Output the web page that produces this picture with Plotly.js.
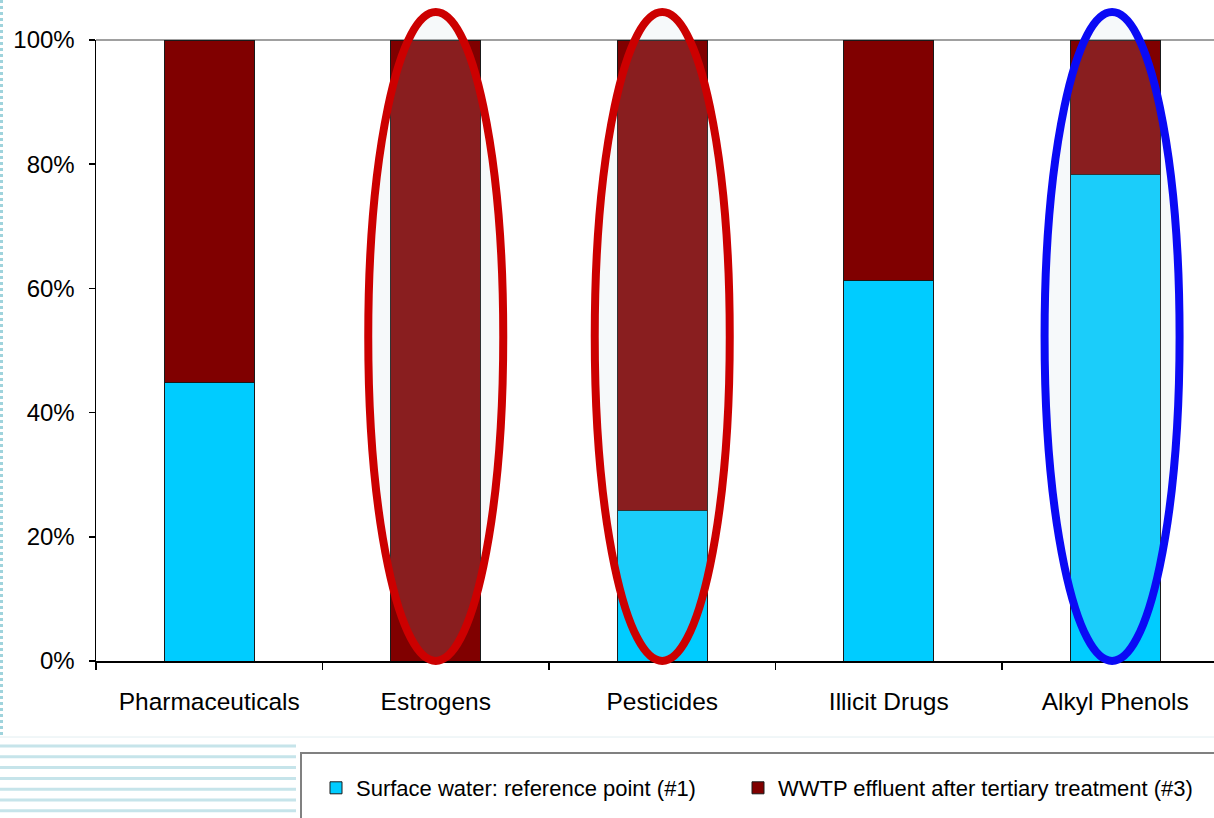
<!DOCTYPE html>
<html>
<head>
<meta charset="utf-8">
<script src="https://cdn.plot.ly/plotly-3.0.1.min.js"></script>
<style>
html,body{margin:0;padding:0;background:#fff;}
#chart{width:1214px;height:818px;}
</style>
</head>
<body>
<div id="chart"></div>
<script>
// ---- data ----
const categories = ["Pharmaceuticals", "Estrogens", "Pesticides", "Illicit Drugs", "Alkyl Phenols"];
const surfaceWater = [44.8, 0, 24.3, 61.2, 78.3];
const wwtpEffluent = [55.2, 100, 75.7, 38.8, 21.7];
const seriesNames = ["Surface water: reference point (#1)", "WWTP effluent after tertiary treatment (#3)"];
const yTickVals = [0, 20, 40, 60, 80, 100];
const highlightRed = [1, 2];     // category indices circled in red
const highlightBlue = [4];       // category indices circled in blue

// ---- geometry helpers for decoration (pixel -> paper) ----
const W = 1214, H = 818;
const mL = 96, mT = 40, mB = 157, mR = 0;
const pw = W - mL - mR, ph = H - mT - mB;
const px = p => (p - mL) / pw;
const py = p => (H - mB - p) / ph;
const catPx = 226.5;
const xEnd = -0.5 + pw / catPx;

const traces = [
  {
    type: "bar", name: seriesNames[0], x: categories, y: surfaceWater, legend: "legend",
    marker: {color: "#00CCFF", line: {color: "#1a1a1a", width: 1}},
    hoverinfo: "skip"
  },
  {
    type: "bar", name: seriesNames[1], x: categories, y: wwtpEffluent, legend: "legend2",
    marker: {color: "#800000", line: {color: "#1a1a1a", width: 1}},
    hoverinfo: "skip"
  }
];

const shapes = [];
// slide decoration: dotted left border
shapes.push({type: "line", xref: "paper", yref: "paper", x0: px(1.5), x1: px(1.5), y0: py(0), y1: py(736),
  line: {color: "#9fd3dc", width: 3, dash: "dot"}, layer: "below"});
// separator line
shapes.push({type: "line", xref: "paper", yref: "paper", x0: px(0), x1: px(W), y0: py(737), y1: py(737),
  line: {color: "#e2eef1", width: 1}, layer: "below"});
// stripes
for (let i = 0; i < 7; i++) {
  const yy = 746 + i * 10.8;
  shapes.push({type: "line", xref: "paper", yref: "paper", x0: px(0), x1: px(296), y0: py(yy), y1: py(yy),
    line: {color: "#c6e4ea", width: 3}, layer: "below"});
}
// legend box
shapes.push({type: "rect", xref: "paper", yref: "paper", x0: px(301), x1: px(W + 20), y0: py(753), y1: py(H + 20),
  line: {color: "#808080", width: 2}, fillcolor: "rgba(0,0,0,0)", layer: "below"});
// top border line at 100%
shapes.push({type: "line", xref: "paper", yref: "paper", x0: 0, x1: 1, y0: 1, y1: 1,
  line: {color: "#a0a0a0", width: 2}, layer: "below"});

// highlight ellipses
const ellHalf = 0.298;
const ellTop = py(12);
function ellipse(idx, color, dx) {
  return {type: "circle", xref: "x", yref: "paper",
    x0: idx + dx - ellHalf, x1: idx + dx + ellHalf, y0: 0, y1: ellTop,
    line: {color: color, width: 8}, fillcolor: "rgba(190,210,222,0.14)", layer: "above"};
}
highlightRed.forEach(i => shapes.push(ellipse(i, "#cc0000", 0)));
highlightBlue.forEach(i => shapes.push(ellipse(i, "#0a0af5", -0.014)));

const legendBase = {
  orientation: "h", xanchor: "left", yanchor: "top",
  font: {size: 22, color: "#000"}, bgcolor: "rgba(0,0,0,0)", borderwidth: 0
};

const layout = {
  width: W, height: H,
  margin: {l: mL, r: mR, t: mT, b: mB, pad: 0},
  paper_bgcolor: "#ffffff", plot_bgcolor: "#ffffff",
  font: {family: "Liberation Sans, Arial, sans-serif", color: "#000"},
  barmode: "stack",
  bargap: 0.603,
  showlegend: true,
  legend: Object.assign({}, legendBase, {x: px(316), y: py(767)}),
  legend2: Object.assign({}, legendBase, {x: px(738), y: py(767)}),
  xaxis: {
    type: "category", range: [-0.5, xEnd], fixedrange: true,
    showline: true, linecolor: "#000", linewidth: 1.5,
    ticks: "outside", tickson: "boundaries", ticklen: 7, tickcolor: "#000", tickwidth: 1.5,
    showgrid: false, zeroline: false,
    tickfont: {size: 24.5, color: "#000"}, ticklabelstandoff: 18
  },
  yaxis: {
    range: [0, 100], tickvals: yTickVals, ticktext: yTickVals.map(v => v + "%"),
    showline: true, linecolor: "#000", linewidth: 1.5,
    ticks: "outside", ticklen: 6, tickcolor: "#000", tickwidth: 1.5,
    showgrid: false, zeroline: false, fixedrange: true,
    tickfont: {size: 24, color: "#000"}, ticklabelstandoff: 9
  },
  shapes: shapes
};

Plotly.newPlot("chart", traces, layout, {displayModeBar: false, staticPlot: true});
</script>
</body>
</html>
